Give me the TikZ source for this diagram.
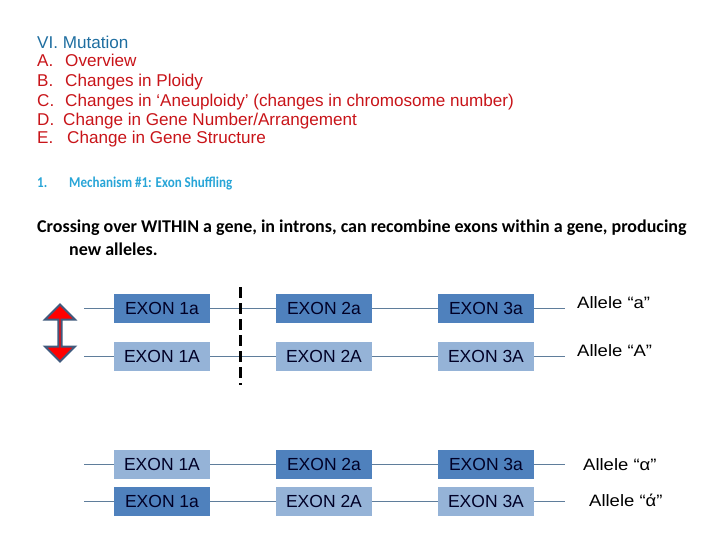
\documentclass[tikz,border=0pt]{standalone}
\usepackage{fontspec}
\setmainfont{Liberation Sans}
\newfontfamily\calib{Carlito}
\newfontfamily\calibn[FakeStretch=0.87]{Carlito}
\newfontfamily\wideari[FakeStretch=1.12]{Liberation Sans}
\usetikzlibrary{shapes.arrows}
\definecolor{hdblue}{RGB}{31,110,160}
\definecolor{hdred}{RGB}{200,20,25}
\definecolor{mechblue}{RGB}{40,165,215}
\definecolor{exdark}{RGB}{79,129,189}
\definecolor{exlight}{RGB}{149,179,215}
\definecolor{intron}{RGB}{95,125,155}
\definecolor{arrowedge}{RGB}{65,90,125}
\tikzset{
  listtxt/.style={anchor=base west,inner sep=0pt,font=\fontsize{17.1}{19}\selectfont},
  exon/.style={draw=none,minimum width=96pt,minimum height=29pt,inner sep=0pt,
     font=\fontsize{17.5}{20}\selectfont,text=black!85!blue},
  dk/.style={exon,fill=exdark},
  lt/.style={exon,fill=exlight},
  intr/.style={draw=intron,line width=0.9pt},
  allele/.style={anchor=west,inner sep=0pt,font=\wideari\fontsize{16.5}{19}\selectfont},
  mech/.style={anchor=base west,inner sep=0pt,text=mechblue,font=\calibn\bfseries\fontsize{15}{18}\selectfont},
  para/.style={anchor=base west,inner sep=0pt,font=\calib\bfseries\fontsize{18}{20}\selectfont},
}
\begin{document}
\begin{tikzpicture}[x=1pt,y=-1pt]
\useasboundingbox (0,0) rectangle (720,540);
% heading list
\node[listtxt,text=hdblue] (h0) at (37,49) {VI. Mutation};
\node[listtxt,text=hdred] (la) at (37,67) {A.};
\node[listtxt,text=hdred] (ta) at (65,67) {Overview};
\node[listtxt,text=hdred] (lb) at (37,87) {B.};
\node[listtxt,text=hdred] (tb) at (65,87) {Changes in Ploidy};
\node[listtxt,text=hdred] (lc) at (37,107) {C.};
\node[listtxt,text=hdred] (tc) at (65,107) {Changes in ‘Aneuploidy’ (changes in chromosome number)};
\node[listtxt,text=hdred] (ld) at (37,126) {D.};
\node[listtxt,text=hdred] (td) at (63,126) {Change in Gene Number/Arrangement};
\node[listtxt,text=hdred] (le) at (37,144) {E.};
\node[listtxt,text=hdred] (te) at (67,144) {Change in Gene Structure};
% mechanism
\node[mech] (m1) at (37,188) {1.};
\node[mech] (m2) at (69,188) {Mechanism \#1: Exon Shuffling};
\node[para] (p1) at (37,233) {Crossing over WITHIN a gene, in introns, can recombine exons within a gene, producing};
\node[para] (p2) at (69,255) {new alleles.};
% rows
\foreach \r/\y/\sa/\sb/\sc/\ta/\tb/\tc in {
  1/308.5/dk/dk/dk/1a/2a/3a,
  2/356.5/lt/lt/lt/1A/2A/3A,
  3/464.5/lt/dk/dk/1A/2a/3a,
  4/501/dk/lt/lt/1a/2A/3A}{
  \coordinate (s\r) at (84,\y);
  \coordinate (e\r) at (565,\y);
  \node[\sa] (a\r) at (162,\y) {EXON \ta};
  \node[\sb] (b\r) at (324,\y) {EXON \tb};
  \node[\sc] (c\r) at (486,\y) {EXON \tc};
  \draw[intr] (s\r) -- (a\r.west) (a\r.east) -- (b\r.west) (b\r.east) -- (c\r.west) (c\r.east) -- (e\r);
}
\node[allele] (al1) at (577,303) {Allele “a”};
\node[allele] (al2) at (577,351) {Allele “A”};
\node[allele] (al3) at (583,465) {Allele “α”};
\node[allele] (al4) at (589,500) {Allele “ά”};
% crossover dashed line
\coordinate (d1) at (240,287);
\coordinate (d2) at (240,385);
\draw[line width=3pt,dash pattern=on 11pt off 5pt] (d1) -- (d2);
% double arrow
\node[double arrow,draw=arrowedge,line width=2pt,fill=red,rotate=90,
  minimum height=57pt,minimum width=30pt,double arrow head extend=8pt,inner sep=0pt] (arr) at (60,333) {};
\end{tikzpicture}
\end{document}
